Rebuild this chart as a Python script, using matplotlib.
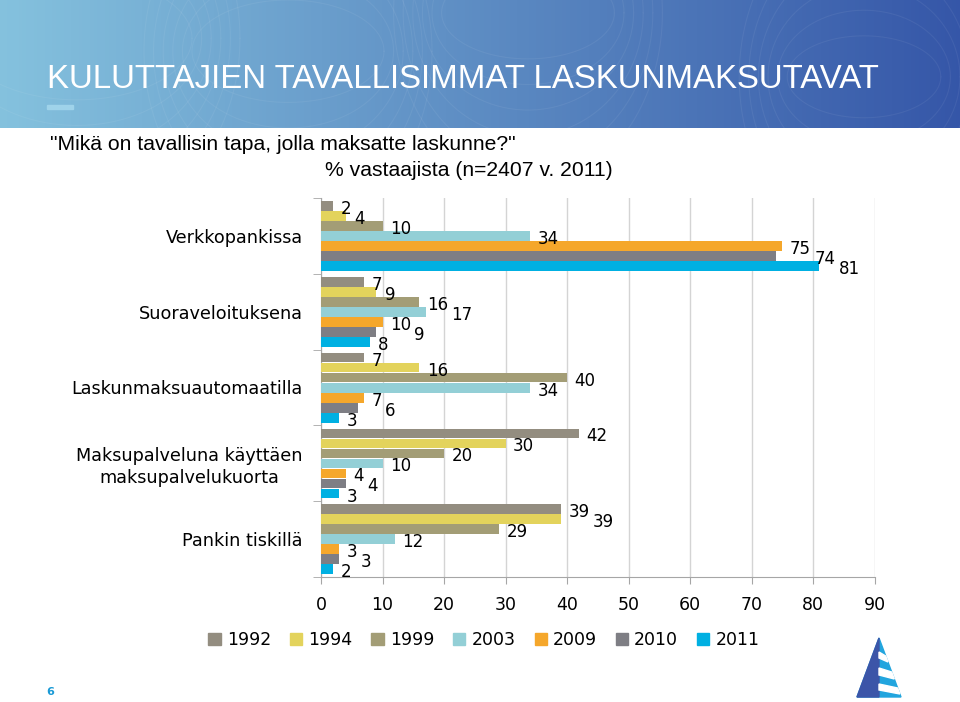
import numpy as np
import matplotlib
matplotlib.use("Agg")
import matplotlib.pyplot as plt
from matplotlib.patches import Patch, Polygon, Rectangle

plt.rcParams['font.family'] = ['DejaVu Sans']

# data
categories = ["Verkkopankissa", "Suoraveloituksena", "Laskunmaksuautomaatilla",
              "Maksupalveluna käyttäen\nmaksupalvelukuorta", "Pankin tiskillä"]
years = ["1992", "1994", "1999", "2003", "2009", "2010", "2011"]
v1992 = [2, 7, 7, 42, 39]
v1994 = [4, 9, 16, 30, 39]
v1999 = [10, 16, 40, 20, 29]
v2003 = [34, 17, 34, 10, 12]
v2009 = [75, 10, 7, 4, 3]
v2010 = [74, 9, 6, 4, 3]
v2011 = [81, 8, 3, 3, 2]
series = [v1992, v1994, v1999, v2003, v2009, v2010, v2011]
colors = ["#938d80", "#e3d35c", "#a39d76", "#93cfd6", "#f5a72b", "#7e7e84", "#00b0e2"]
x_ticks = [0, 10, 20, 30, 40, 50, 60, 70, 80, 90]

sans = ['Liberation Sans', 'DejaVu Sans']

fig = plt.figure(figsize=(9.6, 7.02), dpi=100)

# header banner with gradient
ban = fig.add_axes([0, 1 - 128 / 702, 1, 128 / 702])
grad = np.linspace(0, 1, 256)
left_c = np.array([0.52, 0.76, 0.87])
right_c = np.array([0.21, 0.34, 0.66])
img = left_c[None, :] * (1 - grad[:, None]) + right_c[None, :] * grad[:, None]
img = np.repeat(img[None, :, :], 20, axis=0)
ban.imshow(img, aspect='auto', extent=[0, 1, 0, 1])
ban.set_xlim(0, 1)
ban.set_ylim(0, 1)
ban.axis('off')
# faint decorative arcs
t = np.linspace(0, 2 * np.pi, 200)
for cx, cy, r in [(0.08, 0.7, 0.12), (0.30, 0.6, 0.10), (0.55, 0.9, 0.09), (0.9, 0.4, 0.08)]:
    for k in range(6):
        ban.plot(cx + (r + k * 0.01) * np.cos(t), cy + (r + k * 0.05) * 4 * np.sin(t),
                 color='white', alpha=0.06, lw=0.8)
ban.text(47 / 960, 1 - 80 / 128, "KULUTTAJIEN TAVALLISIMMAT LASKUNMAKSUTAVAT",
         color='white', fontsize=23.8, family=sans, va='center', ha='left')
ban.add_patch(Rectangle((47 / 960, 1 - 109 / 128), 26 / 960, 4 / 128, color='#9fd3ea'))

# subtitle
fig.text(50 / 960, 1 - 145 / 702, '"Mikä on tavallisin tapa, jolla maksatte laskunne?"',
         fontsize=15.2, family=sans, va='center')
fig.text(325 / 960, 1 - 170 / 702, '% vastaajista (n=2407 v. 2011)',
         fontsize=15.2, family=sans, va='center')

# chart
ax = fig.add_axes([321 / 960, 1 - 577 / 702, 553.5 / 960, 379 / 702])
bar_h = 0.132
group = np.arange(len(categories))
for i, (vals, col, yr) in enumerate(zip(series, colors, years)):
    ypos = group - 0.46 + bar_h * (i + 0.5)
    ax.barh(ypos, vals, height=bar_h * 0.97, color=col, label=yr, zorder=3)

# value labels, nudged sideways when they would collide with the one above
digit_w = 1.75  # approx width of one digit in data units
for j in range(len(categories)):
    prev = None
    for i, vals in enumerate(series):
        v = vals[j]
        y = j - 0.46 + bar_h * (i + 0.5)
        s = str(v)
        x = v + 1.2
        w = len(s) * digit_w
        if prev is not None and x < prev[1] + 0.5 and x + w > prev[0] - 0.5:
            x = prev[1] + 0.5
        prev = (x, x + w)
        ax.text(x, y + 0.04, s, fontsize=12, va='center', ha='left', zorder=4)

ax.set_ylim(len(categories) - 0.5, -0.5)
ax.set_xlim(0, 90)
ax.set_xticks(x_ticks)
ax.set_yticks(group)
ax.set_yticklabels(categories, fontsize=12.7, linespacing=1.3, ha='right',
                   multialignment='center')
ax.set_yticks(np.arange(len(categories) + 1) - 0.5, minor=True)
ax.tick_params(axis='y', which='major', length=0, pad=13)
ax.tick_params(axis='y', which='minor', length=6, color='#a6a6a6')
ax.tick_params(axis='x', length=5, color='#a6a6a6', labelsize=12.5, pad=9)
ax.grid(axis='x', color='#d4d4d4', lw=1, zorder=0)
for s in ['top', 'right']:
    ax.spines[s].set_visible(False)
ax.spines['left'].set_color('#a6a6a6')
ax.spines['bottom'].set_color('#a6a6a6')

handles = [Patch(color=c, label=y) for c, y in zip(colors, years)]
fig.legend(handles=handles, loc='center', bbox_to_anchor=(484 / 960, 1 - 640 / 702), ncol=7,
           frameon=False, fontsize=12.5, handlelength=0.7, handleheight=0.7,
           handletextpad=0.35, columnspacing=1.1)

# page number
fig.text(50 / 960, 1 - 692 / 702, "6", color='#1a9ad6', fontsize=8, fontweight='bold',
         ha='center', va='center')

# logo
lg = fig.add_axes([0, 0, 1, 1], facecolor='none')
lg.set_xlim(0, 960)
lg.set_ylim(702, 0)
lg.axis('off')
apex = (879, 638)
bl, br = (857, 697), (901, 697)
lg.add_patch(Polygon([apex, bl, br], closed=True, color='#22a5de'))
lg.add_patch(Polygon([apex, bl, (879, 697)], closed=True, color='#3c55a8'))
for y0, y1 in [(656, 662), (672, 679), (688, 694)]:
    f0 = (y0 - 638) / 59
    f1 = (y1 - 638) / 59
    lg.add_patch(Polygon([(879, y0 - 4), (879 + 22 * f0, y0), (879 + 22 * f1, y1), (879, y1 - 4)],
                         closed=True, color='white'))

fig.savefig("out.png", dpi=100)
